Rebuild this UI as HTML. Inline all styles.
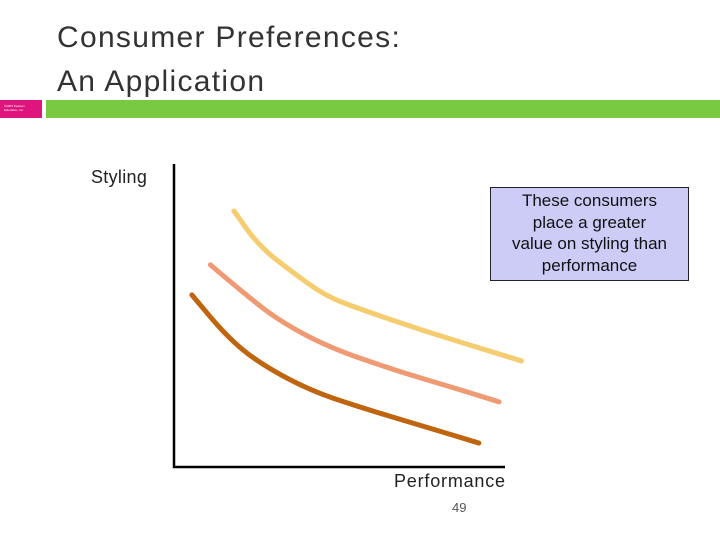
<!DOCTYPE html>
<html><head><meta charset="utf-8"><style>
body{margin:0;width:720px;height:540px;background:#fff;position:relative;overflow:hidden;font-family:"Liberation Sans",sans-serif}
.t{position:absolute;left:57px;font-size:30px;color:#333;line-height:44px;letter-spacing:1.3px}
</style></head><body>
<div class="t" style="top:16px">Consumer Preferences:<br>An Application</div>
<div style="position:absolute;left:0;top:100px;width:42px;height:18px;background:#e0147d;color:#fff;font-size:3px;line-height:4px;padding:4px 0 0 4px;box-sizing:border-box">©2005 Pearson<br>Education, Inc.</div>
<div style="position:absolute;left:46px;top:100px;width:674px;height:18px;background:#7ac943"></div>
<div style="position:absolute;left:91px;top:167px;font-size:18px;color:#222;letter-spacing:0.3px">Styling</div>
<div style="position:absolute;left:394px;top:471px;font-size:18px;color:#222;letter-spacing:0.8px">Performance</div>
<div style="position:absolute;left:452px;top:500px;font-size:13px;color:#555">49</div>
<div style="position:absolute;left:490px;top:187px;width:199px;height:94px;box-sizing:border-box;border:1px solid #222;background:#ccccf7;text-align:center;font-size:17px;line-height:21.5px;color:#111;padding-top:2px">These consumers<br>place a greater<br>value on styling than<br>performance</div>
<svg id="chart" width="720" height="540" style="position:absolute;left:0;top:0"></svg>
<script>
const curveNames=['curve-high','curve-mid','curve-low'];
const curveColors=['#f5cc70','#ef9a72','#c0650f'];
const yellowX=[18.1,25.7,35.6,45.9,56.2,76.4,96.4,105];
const yellowY=[84.5,72.9,64.4,56.4,52.1,44.6,37.9,35];
const salmonX=[11,21.1,31.4,46.5,66.5,86.7,98.2];
const salmonY=[66.7,57.4,48.5,39.6,32,25.4,21.5];
const darkX=[5.4,16,25.7,40.8,55.9,76.1,92.1];
const darkY=[56.8,43,34.3,25.4,19.8,13.2,7.9];
const NS='http://www.w3.org/2000/svg';
const svg=document.getElementById('chart');
const sx=v=>174+v*3.31, sy=v=>467-v*3.03;
function path(xs,ys){let d='M'+sx(xs[0])+','+sy(ys[0]);
for(let i=1;i<xs.length;i++){const x0=sx(xs[i-1]),y0=sy(ys[i-1]),x1=sx(xs[i]),y1=sy(ys[i]);
const xm=(x0+x1)/2,ym=(y0+y1)/2;d+=(i==1?' L':' Q'+x0+','+y0+' ')+xm+','+ym;}
d+=' L'+sx(xs[xs.length-1])+','+sy(ys[ys.length-1]);return d;}
[[yellowX,yellowY],[salmonX,salmonY],[darkX,darkY]].forEach((s,i)=>{
const p=document.createElementNS(NS,'path');
p.setAttribute('d',path(s[0],s[1]));p.setAttribute('fill','none');
p.setAttribute('stroke',curveColors[i]);p.setAttribute('stroke-width','5');p.setAttribute('stroke-linecap','round');


svg.appendChild(p);});
const ax=document.createElementNS(NS,'path');
ax.setAttribute('d','M174,164 L174,467 L505,467');ax.setAttribute('fill','none');ax.setAttribute('stroke','#000');ax.setAttribute('stroke-width','2.5');


svg.appendChild(ax);
</script>
</body></html>
